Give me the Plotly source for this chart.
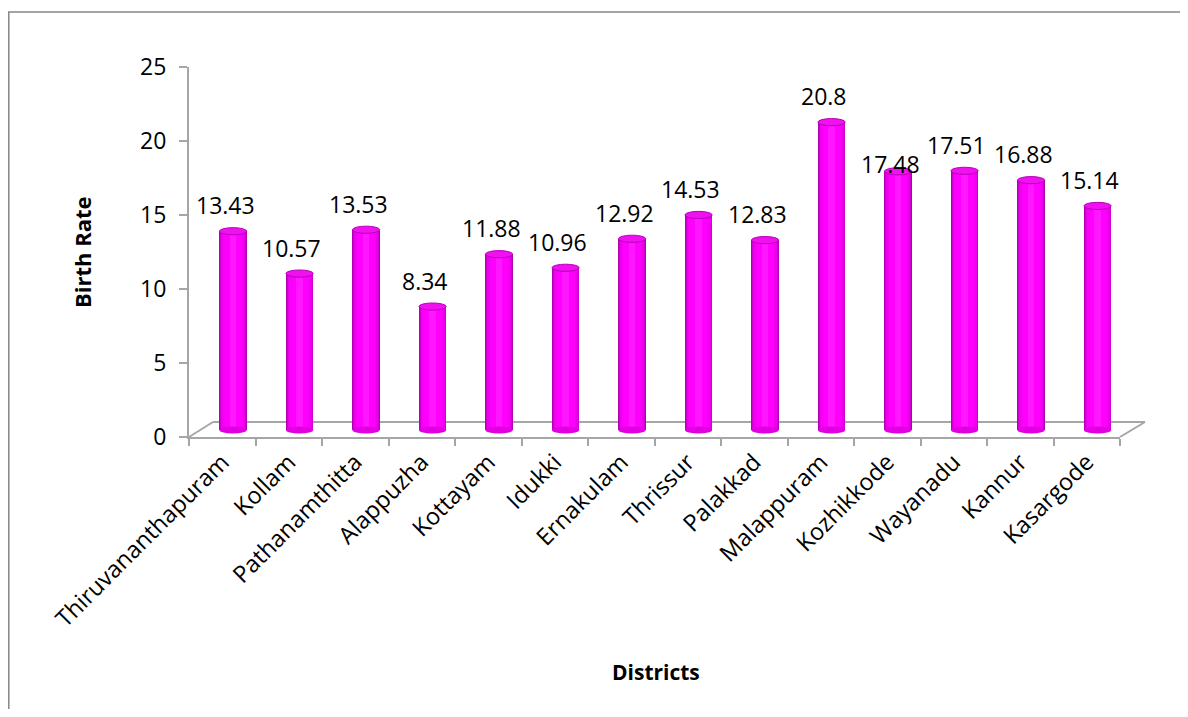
import plotly.graph_objects as go

districts = ["Thiruvananthapuram", "Kollam", "Pathanamthitta", "Alappuzha", "Kottayam",
             "Idukki", "Ernakulam", "Thrissur", "Palakkad", "Malappuram", "Kozhikkode",
             "Wayanadu", "Kannur", "Kasargode"]
birth_rate = [13.43, 10.57, 13.53, 8.34, 11.88, 10.96, 12.92, 14.53, 12.83, 20.8,
              17.48, 17.51, 16.88, 15.14]
y_ticks = [0, 5, 10, 15, 20, 25]

# label placement quirk of the original (label drawn lower than the others)
label_nudge_px = {"Kozhikkode": -19}

FONT = "Open Sans"
PAGE_OFF = 8                      # default body margin of the html page
W, H = 1188 - 2 * PAGE_OFF, 717 - 2 * PAGE_OFF
L, R, T, B = 189, 1120, 67, 437   # plot area in page pixels
PW, PH = R - L, B - T
n = len(districts)
cat_px = PW / n
ymax = 25
unit_px = PH / ymax

dx_cat = 10.8 / cat_px
dy_val = 7.0 / unit_px

def px_x(p):
    return (p - L) / PW

def px_y(p):
    return (B - p) / PH

fig = go.Figure()

fig.add_trace(go.Scatter(x=districts, y=birth_rate, mode="markers",
                         marker=dict(opacity=0), hoverinfo="skip", showlegend=False,
                         xaxis="x", yaxis="y"))

layers = [(0.41, "#B000B0"), (0.39, "#D000D0"), (0.36, "#EA00EA"),
          (0.31, "#F900F9"), (0.24, "#FF00FF"), (0.10, "#FF18FF")]
for w, c in layers:
    fig.add_trace(go.Bar(x=districts, y=birth_rate, width=w, marker=dict(color=c, line=dict(width=0)),
                         xaxis="x2", yaxis="y2", showlegend=False, hoverinfo="skip"))

shapes = []
ell_h = 3.6 / unit_px
bw = 0.41
for i, v in enumerate(birth_rate):
    shapes.append(dict(type="circle", xref="x2", yref="y2", x0=i - bw / 2, x1=i + bw / 2,
                       y0=-ell_h, y1=ell_h, fillcolor="#E000E0", line=dict(width=0), layer="above"))
    shapes.append(dict(type="circle", xref="x2", yref="y2", x0=i - bw / 2, x1=i + bw / 2,
                       y0=v - ell_h, y1=v + ell_h, fillcolor="#F010F0",
                       line=dict(color="#B800B8", width=1), layer="above"))

floor_col = "#A6A6A6"
shapes += [
    dict(type="line", xref="paper", yref="paper", x0=0, y0=0, x1=px_x(213), y1=px_y(422),
         line=dict(color=floor_col, width=2), layer="below"),
    dict(type="line", xref="paper", yref="paper", x0=px_x(213), y0=px_y(422), x1=px_x(1145), y1=px_y(422),
         line=dict(color=floor_col, width=2), layer="below"),
    dict(type="line", xref="paper", yref="paper", x0=1, y0=0, x1=px_x(1145), y1=px_y(422),
         line=dict(color=floor_col, width=2), layer="below"),
    dict(type="rect", xref="paper", yref="paper", x0=px_x(8.8), y0=px_y(740), x1=px_x(1210), y1=px_y(12),
         line=dict(color="#868686", width=1.5), fillcolor="rgba(0,0,0,0)", layer="below"),
]

annotations = []
for i, (d, v) in enumerate(zip(districts, birth_rate)):
    annotations.append(dict(x=d, y=v, xref="x2", yref="y2", text=f"{v:g}", showarrow=False,
                            yanchor="bottom", yshift=8 + label_nudge_px.get(d, 0), xshift=-8,
                            font=dict(family=FONT, size=23, color="#000000")))

annotations += [
    dict(x=px_x(82), y=0.5, xref="paper", yref="paper", text="<b>Birth Rate</b>", textangle=-90,
         showarrow=False, xanchor="center", yanchor="middle",
         font=dict(family=FONT, size=22, color="#000000")),
    dict(x=0.5 + 1.5 / PW, y=px_y(672), xref="paper", yref="paper", text="<b>Districts</b>",
         showarrow=False, xanchor="center", yanchor="middle",
         font=dict(family=FONT, size=21, color="#000000")),
]

axis_col = "#A6A6A6"
fig.update_layout(
    width=W, height=H,
    margin=dict(l=L - PAGE_OFF, r=W - (R - PAGE_OFF), t=T - PAGE_OFF, b=H - (B - PAGE_OFF)),
    paper_bgcolor="white", plot_bgcolor="white",
    barmode="overlay", bargap=0,
    showlegend=False,
    font=dict(family=FONT, size=23, color="#000000"),
    xaxis=dict(type="category", categoryorder="array", categoryarray=districts,
               range=[-0.5, n - 0.5], showline=True, linecolor=axis_col, linewidth=2,
               ticks="outside", tickson="boundaries", ticklen=7, tickcolor=axis_col, tickwidth=2,
               tickangle=-45, tickfont=dict(family=FONT, size=23.5, color="#000000"),
               showgrid=False, zeroline=False, fixedrange=True),
    yaxis=dict(range=[0, ymax], tickvals=y_ticks, showline=True, linecolor=axis_col, linewidth=2,
               ticks="outside", ticklen=8, tickcolor=axis_col, tickwidth=2,
               tickfont=dict(family=FONT, size=23, color="#000000"),
               showgrid=False, zeroline=False, ticklabelstandoff=8),
    xaxis2=dict(type="category", categoryorder="array", categoryarray=districts,
                overlaying="x", range=[-0.5 - dx_cat, n - 0.5 - dx_cat], visible=False),
    yaxis2=dict(overlaying="y", range=[-dy_val, ymax - dy_val], visible=False),
    shapes=shapes,
    annotations=annotations,
)

fig.write_html("out.html")
